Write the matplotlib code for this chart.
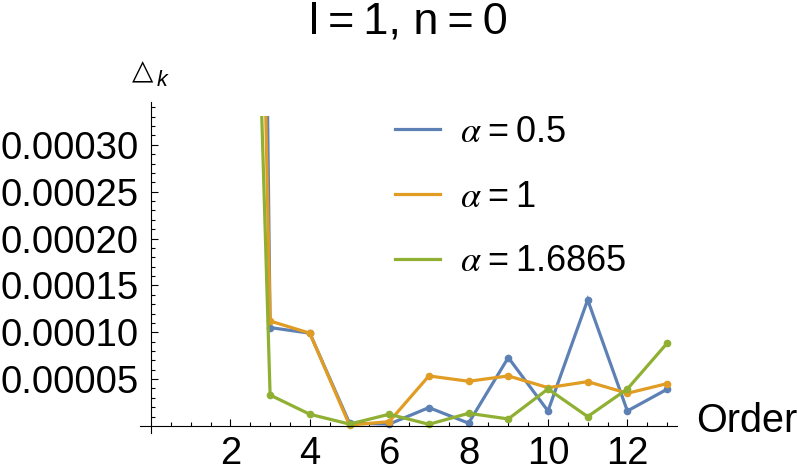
import matplotlib
matplotlib.use("Agg")
import matplotlib.pyplot as plt
from matplotlib.patches import Rectangle
from matplotlib.ticker import FixedLocator, FixedFormatter

plt.rcParams['font.family'] = ['Liberation Sans', 'DejaVu Sans']
plt.rcParams['mathtext.fontset'] = 'stix'

TS = '\u2009'
order = [2, 3, 4, 5, 6, 7, 8, 9, 10, 11, 12, 13]
delta_a05 = [0.0037, 0.000105, 0.000099, 0.000003, 0.000002, 0.0000196, 0.000003,
             0.000073, 0.000016, 0.0001346, 0.000016, 0.0000392]
delta_a1 = [0.00213, 0.000112, 0.000099, 0.000001, 0.0000046, 0.0000534, 0.0000477,
            0.0000534, 0.0000409, 0.0000473, 0.0000349, 0.0000452]
delta_a16865 = [0.00145, 0.000033, 0.0000125, 0.000002, 0.0000125, 0.0000018, 0.0000135,
                0.0000075, 0.0000395, 0.00001, 0.0000395, 0.0000883]
series_labels = [r'$\alpha$' + TS + '=' + TS + '0.5',
                 r'$\alpha$' + TS + '=' + TS + '1',
                 r'$\alpha$' + TS + '=' + TS + '1.6865']
colors = ['#5E81B5', '#E19C24', '#8FB032']

xticks = [2, 4, 6, 8, 10, 12]
xtick_labels = ['2', '4', '6', '8', '10', '12']
yticks = [0.00005, 0.00010, 0.00015, 0.00020, 0.00025, 0.00030]
ytick_labels = ['0.00005', '0.00010', '0.00015', '0.00020', '0.00025', '0.00030']
title = 'l' + TS + '=' + TS + '1, n' + TS + '=' + TS + '0'

W, H = 797, 474
fig = plt.figure(figsize=(W / 100, H / 100), dpi=100)
ax = fig.add_axes([139.9 / W, 41 / H, (677 - 139.9) / W, (433 - 101.7) / H])

xmin, xmax = -0.28, 13.25
ymin, ymax = -0.0000075, 0.000346
clip_top = 0.000331
ax.set_xlim(xmin, xmax)
ax.set_ylim(ymin, ymax)

clip = Rectangle((xmin, ymin), xmax - xmin, clip_top - ymin, transform=ax.transData,
                 fill=False, visible=False)
ax.add_patch(clip)

for ys, c, lab in zip([delta_a05, delta_a1, delta_a16865], colors, series_labels):
    ln, = ax.plot(order, ys, color=c, lw=2.3, marker='o', ms=4.5, label=lab,
                  solid_joinstyle='miter')
    ln.set_clip_path(clip)

for s in ['top', 'right']:
    ax.spines[s].set_visible(False)
ax.spines['left'].set_position(('data', 0))
ax.spines['bottom'].set_position(('data', 0))
ax.spines['left'].set_bounds(ymin, ymax)
ax.spines['bottom'].set_bounds(xmin, xmax)
for s in ['left', 'bottom']:
    ax.spines[s].set_linewidth(0.8)

ax.xaxis.set_major_locator(FixedLocator(xticks))
ax.xaxis.set_major_formatter(FixedFormatter(xtick_labels))
ax.xaxis.set_minor_locator(FixedLocator([0.5 * i for i in range(1, 27) if (0.5 * i) % 2 != 0]))
ax.yaxis.set_major_locator(FixedLocator(yticks))
ax.yaxis.set_major_formatter(FixedFormatter(ytick_labels))
ax.yaxis.set_minor_locator(FixedLocator([0.00001 * i for i in range(1, 35) if i % 5 != 0]))

ax.tick_params(which='major', direction='in', length=5, width=0.8, labelsize=27.5)
ax.tick_params(which='minor', direction='in', length=3, width=0.8)
ax.tick_params(axis='x', which='major', pad=7)
ax.tick_params(axis='y', which='major', pad=9)

fig.text(408.5 / W, 1 - 22 / H, title, ha='center', va='center', fontsize=32.5)
fig.text(696 / W, 1 - 421 / H, 'Order', ha='left', va='center', fontsize=28.5)
fig.text(142.5 / W, 1 - 71 / H, '\u25B3', ha='center', va='center', fontsize=20,
         family=['DejaVu Sans'])
fig.text(157 / W, 1 - 86 / H, 'k', ha='left', va='baseline', fontsize=15.5,
         style='italic')

leg = ax.legend(loc='upper left', bbox_to_anchor=(395 / W, 1 - 115 / H),
                bbox_transform=fig.transFigure, frameon=False, fontsize=26,
                handlelength=1.25, handletextpad=0.55, labelspacing=0.82,
                borderpad=0, borderaxespad=0)
for h in leg.get_lines():
    h.set_marker('')
    h.set_linewidth(2.3)

fig.savefig('out.png', dpi=100)
